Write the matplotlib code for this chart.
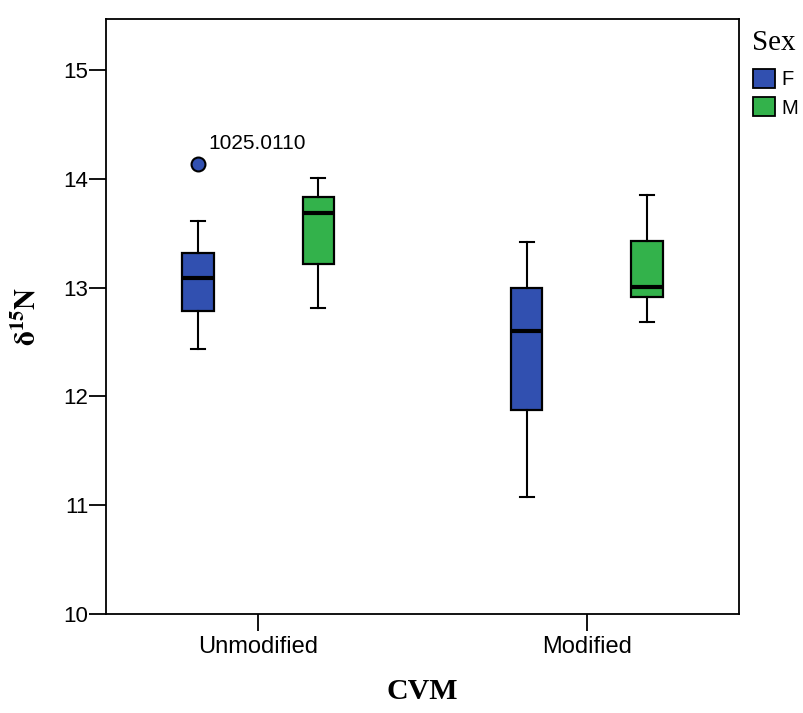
import matplotlib.pyplot as plt
from matplotlib.patches import Patch

plt.rcParams['mathtext.fontset'] = 'stix'

groups = ['Unmodified', 'Modified']
sexes = ['F', 'M']
colors = ['#3150b0', '#33b24b']

# five-number summaries: [low whisker, q1, median, q3, high whisker]
f_stats = [[12.44, 12.79, 13.09, 13.32, 13.61],
           [11.08, 11.88, 12.60, 13.00, 13.42]]
m_stats = [[12.81, 13.22, 13.69, 13.83, 14.01],
           [12.68, 12.91, 13.01, 13.43, 13.85]]
f_outliers = [[14.14], []]
m_outliers = [[], []]
outlier_label = '1025.0110'

fig = plt.figure(figsize=(8.04, 7.13), dpi=100)
ax = fig.add_axes([0.1318, 0.1388, 0.7873, 0.8346])

offset = 0.183
width = 0.095
for k, (stats, outs) in enumerate([(f_stats, f_outliers), (m_stats, m_outliers)]):
    bxp_stats = []
    for s, o in zip(stats, outs):
        bxp_stats.append({'whislo': s[0], 'q1': s[1], 'med': s[2], 'q3': s[3],
                          'whishi': s[4], 'fliers': o})
    pos = [i + (k - 0.5) * 2 * offset for i in range(len(groups))]
    ax.bxp(bxp_stats, positions=pos, widths=width, patch_artist=True,
           boxprops=dict(facecolor=colors[k], edgecolor='black', linewidth=1.6),
           medianprops=dict(color='black', linewidth=3),
           whiskerprops=dict(color='black', linewidth=1.5),
           capprops=dict(color='black', linewidth=1.5),
           capwidths=width * 0.45,
           flierprops=dict(marker='o', markersize=10, markerfacecolor=colors[k],
                           markeredgecolor='black', markeredgewidth=1.5))

# label for the outlier
ax.annotate(outlier_label, (-offset, f_outliers[0][0]), xytext=(7.5, 10.5),
            textcoords='offset points', fontsize=15, family='Liberation Sans')

ax.set_xlim(-0.463, 1.463)
ax.set_ylim(10, 15.47)
ax.set_yticks([10, 11, 12, 13, 14, 15])
ax.set_xticks(range(len(groups)))
ax.set_xticklabels(groups)
for lbl in ax.get_xticklabels():
    lbl.set_family('Liberation Sans')
    lbl.set_fontsize(17)
for lbl in ax.get_yticklabels():
    lbl.set_family('Liberation Sans')
    lbl.set_fontsize(16)
ax.tick_params(axis='both', length=12, width=1.3, color='black')
ax.tick_params(axis='x', pad=4)
ax.tick_params(axis='y', pad=0.5)
for sp in ax.spines.values():
    sp.set_linewidth(1.3)

ax.set_xlabel('CVM', family='Liberation Serif', fontweight='bold', fontsize=21.5, labelpad=14)
ax.set_ylabel(r'$\mathbf{\delta}^{\mathbf{15}}\mathbf{N}$', fontsize=21, labelpad=16)

# legend: title drawn separately so the gap above the entries matches
fig.text(0.9353, 0.958, 'Sex', family='Liberation Serif', fontsize=21, va='top', ha='left')
handles = [Patch(facecolor=c, edgecolor='black', linewidth=1.3) for c in colors]
fig.legend(handles, sexes, loc='upper left', bbox_to_anchor=(0.917, 0.9256),
           frameon=False, handlelength=1.05, handleheight=1.05,
           handletextpad=0.35, labelspacing=0.4, borderpad=0.3,
           prop={'family': 'Liberation Sans', 'size': 14.5})

plt.savefig('out.png', dpi=100)
